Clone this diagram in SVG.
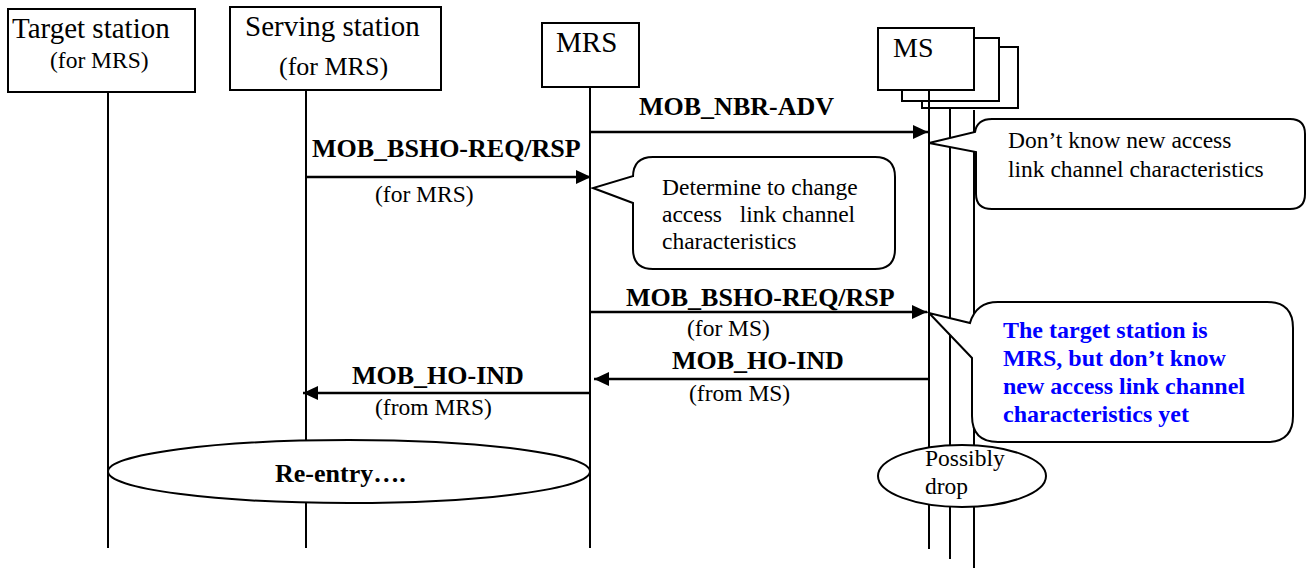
<svg xmlns="http://www.w3.org/2000/svg" width="1311" height="568" viewBox="0 0 1311 568">
<style>
  .box { fill: #fff; stroke: #000; stroke-width: 2; }
  .life { stroke: #000; stroke-width: 2; fill: none; }
  .msg { stroke: #000; stroke-width: 2.5; fill: none; marker-end: url(#arrow); }
  .callout { fill: #fff; stroke: #000; stroke-width: 2; }
  text { font-family: 'Liberation Serif', 'DejaVu Serif', serif; fill: #000; }
  .title { font-size: 29px; }
  .sub { font-size: 23.5px; }
  .lbl { font-size: 26px; font-weight: bold; }
  .blue { font-size: 24px; font-weight: bold; fill: #0000ff; }
  .pre { white-space: pre; }
</style>
<defs>
  <marker id="arrow" markerUnits="userSpaceOnUse" markerWidth="16" markerHeight="14" refX="15" refY="7" orient="auto">
    <path d="M0,0 L15,7 L0,14 Z" fill="#000"/>
  </marker>
</defs>
<rect width="1311" height="568" fill="#fff"/>

<g id="lifelines">
  <line class="life" x1="108" y1="92" x2="108" y2="548"/>
  <line class="life" x1="306" y1="90" x2="306" y2="548"/>
  <line class="life" x1="590" y1="87" x2="590" y2="548"/>
  <line class="life" x1="950" y1="101" x2="950" y2="559"/>
  <line class="life" x1="974" y1="110" x2="974" y2="568"/>
</g>

<g id="node-target">
  <rect class="box" x="8" y="9" width="187" height="83"/>
  <text class="title" x="12" y="38">Target station</text>
  <text class="sub" x="50" y="68">(for MRS)</text>
</g>

<g id="node-serving">
  <rect class="box" x="230" y="7" width="211" height="83"/>
  <text class="title" x="245" y="36">Serving station</text>
  <text x="279" y="75" style="font-size:26px">(for MRS)</text>
</g>

<g id="node-mrs">
  <rect class="box" x="542" y="23" width="97" height="64"/>
  <text class="title" x="556" y="52">MRS</text>
</g>

<g id="node-ms">
  <rect class="box" x="922" y="47" width="96" height="61"/>
  <rect class="box" x="902" y="38" width="97" height="63"/>
  <rect class="box" x="878" y="28" width="96" height="62"/>
  <text x="893" y="57" style="font-size:28px">MS</text>
  <line class="life" x1="929" y1="90" x2="929" y2="549"/>
</g>

<g id="node-reentry">
  <ellipse class="box" cx="349" cy="471.5" rx="241" ry="31.5"/>
  <text class="lbl" x="275" y="482">Re-entry….</text>
</g>

<g id="node-drop">
  <ellipse class="box" cx="962" cy="476" rx="84" ry="31"/>
  <text class="sub" x="925" y="466">Possibly</text>
  <text class="sub" x="925" y="494">drop</text>
</g>

<g id="callout-determine">
  <path class="callout" d="M653,157 H875 Q895,157 895,177 V249 Q895,269 875,269 H653 Q633,269 633,249 V203 L593,188 L633,176 V177 Q633,157 653,157 Z"/>
  <text class="sub" x="662" y="195">Determine to change</text>
  <text class="sub pre" x="662" y="222">access   link channel</text>
  <text class="sub" x="662" y="249">characteristics</text>
</g>

<g id="callout-dontknow">
  <path class="callout" d="M992,119 H1290 Q1305,119 1305,134 V194 Q1305,209 1290,209 H992 Q976,209 976,194 V152 L929,143 L975,132 Q977,119 992,119 Z"/>
  <text class="sub" x="1008" y="148">Don’t know new access</text>
  <text class="sub" x="1008" y="177">link channel characteristics</text>
</g>

<g id="callout-target">
  <path class="callout" d="M998,302 H1267 Q1293,302 1293,328 V416 Q1293,442 1267,442 H998 Q972,442 972,416 V358 L929,313 L970,323 Q976,302 998,302 Z"/>
  <text class="blue" x="1003" y="338">The target station is</text>
  <text class="blue" x="1003" y="366">MRS, but don’t know</text>
  <text class="blue" x="1003" y="394">new access link channel</text>
  <text class="blue" x="1003" y="422">characteristics yet</text>
</g>

<g id="connectors">
  <line class="msg" x1="590" y1="132" x2="928" y2="132"/>
  <line class="msg" x1="306" y1="177" x2="591" y2="177"/>
  <line class="msg" x1="590" y1="312" x2="927" y2="312"/>
  <line class="msg" x1="929" y1="379" x2="594" y2="379"/>
  <line class="msg" x1="590" y1="393" x2="303" y2="393"/>
  <text class="lbl" x="639" y="115">MOB_NBR-ADV</text>
  <text class="lbl" x="312" y="157">MOB_BSHO-REQ/RSP</text>
  <text class="sub" x="375" y="202">(for MRS)</text>
  <text class="lbl" x="626" y="306">MOB_BSHO-REQ/RSP</text>
  <text class="sub" x="687" y="336">(for MS)</text>
  <text class="lbl" x="672" y="369">MOB_HO-IND</text>
  <text class="sub" x="689" y="401">(from MS)</text>
  <text class="lbl" x="352" y="384">MOB_HO-IND</text>
  <text class="sub" x="375" y="415">(from MRS)</text>
</g>
</svg>
